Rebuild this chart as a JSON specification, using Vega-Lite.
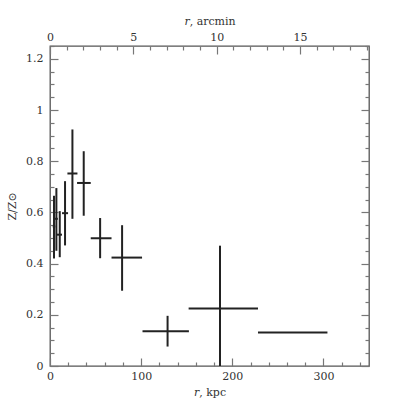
{
  "$schema": "https://vega.github.io/schema/vega-lite/v6.json",
  "width": 319,
  "height": 320,
  "autosize": "none",
  "padding": {"left": 50, "top": 46, "right": 34, "bottom": 37},
  "config": {
    "view": {"stroke": "#555", "strokeWidth": 1.3},
    "font": "DejaVu Serif",
    "axis": {
      "domain": false,
      "grid": false,
      "labelOverlap": false,
      "labelFlush": false,
      "labelFont": "DejaVu Serif",
      "labelFontSize": 11,
      "labelColor": "#333",
      "titleFont": "DejaVu Serif",
      "titleFontSize": 11,
      "titleFontWeight": "normal",
      "titleColor": "#333",
      "tickColor": "#777",
      "tickWidth": 1.2
    }
  },
  "datasets": {
    "pts": [
      {"r": 4.4, "r_lo": 3.0, "r_hi": 5.8, "z": 0.545, "z_lo": 0.42, "z_hi": 0.665},
      {"r": 7.0, "r_lo": 4.5, "r_hi": 8.6, "z": 0.575, "z_lo": 0.45, "z_hi": 0.695},
      {"r": 10.7, "r_lo": 7.7, "r_hi": 13.2, "z": 0.513, "z_lo": 0.425, "z_hi": 0.605},
      {"r": 16.5, "r_lo": 13.2, "r_hi": 19.8, "z": 0.597, "z_lo": 0.471, "z_hi": 0.722},
      {"r": 24.6, "r_lo": 19.1, "r_hi": 30.1, "z": 0.752, "z_lo": 0.575, "z_hi": 0.924},
      {"r": 37.0, "r_lo": 29.7, "r_hi": 44.7, "z": 0.715, "z_lo": 0.587, "z_hi": 0.839},
      {"r": 55.0, "r_lo": 44.7, "r_hi": 67.5, "z": 0.499, "z_lo": 0.421, "z_hi": 0.578},
      {"r": 79.1, "r_lo": 67.5, "r_hi": 101.0, "z": 0.4235, "z_lo": 0.294, "z_hi": 0.55},
      {"r": 129.0, "r_lo": 101.5, "r_hi": 152.4, "z": 0.136, "z_lo": 0.076, "z_hi": 0.196},
      {"r": 186.5, "r_lo": 152.1, "r_hi": 228.2, "z": 0.225, "z_lo": -0.02, "z_hi": 0.47},
      {"r": 266.0, "r_lo": 228.2, "r_hi": 304.4, "z": 0.131, "z_lo": 0.131, "z_hi": 0.131}
    ],
    "top": [{"arcmin": 0, "z": 0}]
  },
  "layer": [
    {
      "data": {"name": "pts"},
      "mark": {"type": "rule", "color": "#222", "strokeWidth": 2, "clip": true},
      "encoding": {
        "x": {
          "field": "r", "type": "quantitative",
          "scale": {"domain": [0, 350], "nice": false, "zero": false},
          "axis": {
            "orient": "bottom",
            "title": "𝑟, kpc",
            "titlePadding": 1,
            "values": [0, 20, 40, 60, 80, 100, 120, 140, 160, 180, 200, 220, 240, 260, 280, 300, 320, 340],
            "format": "d",
            "labelExpr": "datum.value == 0 || datum.value == 100 || datum.value == 200 || datum.value == 300 ? datum.label : ''",
            "tickSize": {"condition": {"test": "datum.value % 100 === 0", "value": -8}, "value": -4},
            "labelPadding": 12
          }
        },
        "y": {
          "field": "z_lo", "type": "quantitative",
          "scale": {"domain": [0, 1.25], "nice": false, "zero": false},
          "axis": {
            "orient": "left",
            "title": "Z/Z⊙",
            "titlePadding": 8,
            "values": [0, 0.05, 0.1, 0.15, 0.2, 0.25, 0.3, 0.35, 0.4, 0.45, 0.5, 0.55, 0.6, 0.65, 0.7, 0.75, 0.8, 0.85, 0.9, 0.95, 1, 1.05, 1.1, 1.15, 1.2, 1.25],
            "format": "~g",
            "labelExpr": "abs(datum.value * 5 - round(datum.value * 5)) < 1e-6 ? datum.label : ''",
            "tickSize": {"condition": {"test": "abs(datum.value * 5 - round(datum.value * 5)) < 1e-6", "value": -8}, "value": -4},
            "labelPadding": 15
          }
        },
        "y2": {"field": "z_hi"}
      }
    },
    {
      "data": {"name": "pts"},
      "mark": {"type": "rule", "color": "#222", "strokeWidth": 2, "clip": true},
      "encoding": {
        "x": {"field": "r_lo", "type": "quantitative", "scale": {"domain": [0, 350], "nice": false, "zero": false}, "axis": null},
        "x2": {"field": "r_hi"},
        "y": {"field": "z", "type": "quantitative", "axis": null}
      }
    },
    {
      "data": {"name": "top"},
      "mark": {"type": "point", "opacity": 0},
      "encoding": {
        "x": {
          "field": "arcmin", "type": "quantitative",
          "scale": {"domain": [0, 19.14], "nice": false, "zero": false},
          "axis": {
            "orient": "top",
            "title": "𝑟, arcmin",
            "titlePadding": 1,
            "values": [0, 1, 2, 3, 4, 5, 6, 7, 8, 9, 10, 11, 12, 13, 14, 15, 16, 17, 18, 19],
            "labelExpr": "datum.value % 5 === 0 ? datum.label : ''",
            "tickSize": {"condition": {"test": "datum.value % 5 === 0", "value": -8}, "value": -4},
            "labelPadding": 12
          }
        },
        "y": {
          "field": "z", "type": "quantitative",
          "axis": {
            "orient": "right",
            "title": null,
            "labels": false,
            "values": [0, 0.05, 0.1, 0.15, 0.2, 0.25, 0.3, 0.35, 0.4, 0.45, 0.5, 0.55, 0.6, 0.65, 0.7, 0.75, 0.8, 0.85, 0.9, 0.95, 1, 1.05, 1.1, 1.15, 1.2, 1.25],
            "tickSize": {"condition": {"test": "abs(datum.value * 5 - round(datum.value * 5)) < 1e-6", "value": -8}, "value": -4}
          }
        }
      }
    }
  ],
  "resolve": {
    "scale": {"x": "independent"},
    "axis": {"x": "independent", "y": "independent"}
  }
}
